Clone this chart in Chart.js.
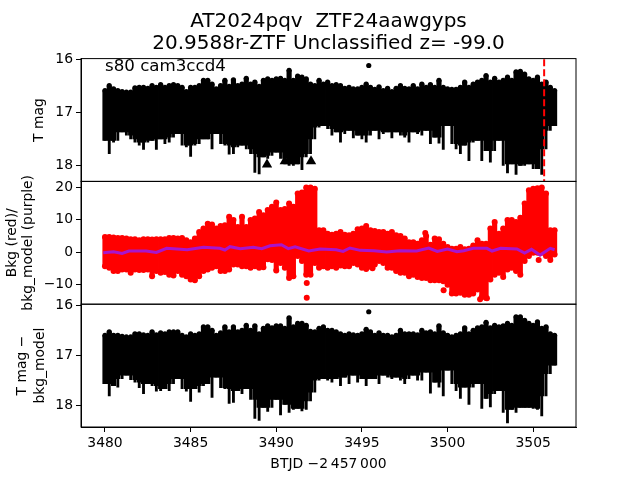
<!DOCTYPE html>
<html>
<head>
<meta charset="utf-8">
<script src="https://cdn.jsdelivr.net/npm/chart.js@4"></script>
<style>
  html, body { margin: 0; padding: 0; background: #fff; }
  canvas { display: block; }
</style>
</head>
<body>
<canvas id="grafico" width="640" height="480"></canvas>
<script>
// columnas de tiempo (BTJD - 2457000)
const btjd = [
  3480,3480.25,3480.5,3480.75,3481,3481.25,3481.5,3481.75,3482,3482.25,
  3482.5,3482.75,3483,3483.25,3483.5,3483.75,3484,3484.25,3484.5,3484.75,
  3485,3485.25,3485.5,3485.75,3486,3486.25,3486.5,3486.75,3487,3487.25,
  3487.5,3487.75,3488,3488.25,3488.5,3488.75,3489,3489.25,3489.5,3489.75,
  3490,3490.25,3490.5,3490.75,3491,3491.25,3491.5,3491.75,3492,3492.25,
  3492.5,3492.75,3493,3493.25,3493.5,3493.75,3494,3494.25,3494.5,3494.75,
  3495,3495.25,3495.5,3495.75,3496,3496.25,3496.5,3496.75,3497,3497.25,
  3497.5,3497.75,3498,3498.25,3498.5,3498.75,3499,3499.25,3499.5,3499.75,
  3500,3500.25,3500.5,3500.75,3501,3501.25,3501.5,3501.75,3502,3502.25,
  3502.5,3502.75,3503,3503.25,3503.5,3503.75,3504,3504.25,3504.5,3504.75,
  3505,3505.25,3505.5,3505.75,3506,3506.25
];

// panel 1: T mag, borde superior e inferior
const magTop = [
  16.59,16.50,16.56,16.59,16.61,16.62,16.62,16.54,16.53,16.53,
  16.55,16.50,16.53,16.48,16.53,16.50,16.48,16.50,16.53,16.61,
  16.53,16.53,16.50,16.40,16.40,16.47,16.56,16.50,16.40,16.51,
  16.39,16.50,16.47,16.36,16.47,16.43,16.51,16.40,16.37,16.40,
  16.37,16.36,16.40,16.21,16.40,16.32,16.34,16.37,16.47,16.50,
  16.40,16.47,16.43,16.50,16.48,
  16.50,16.55,16.53,16.56,16.56,16.53,16.47,16.53,16.57,16.52,
  16.59,16.55,16.61,16.55,16.50,16.55,16.56,16.50,16.56,16.47,
  16.53,16.48,16.53,16.40,16.53,16.56,16.57,16.57,16.53,16.43,
  16.53,16.47,16.43,16.40,16.31,16.43,16.36,16.43,16.40,16.34,
  16.40,16.24,16.23,16.28,16.37,16.40,16.34,16.47,16.43,16.53,16.59
];
const magBottom = [
  17.53,17.78,17.56,17.53,17.37,17.43,17.50,17.56,17.62,17.70,
  17.56,17.53,17.70,17.50,17.59,17.56,17.47,17.40,17.62,17.65,
  17.83,17.62,17.59,17.50,17.50,17.69,17.40,17.59,17.62,17.79,
  17.78,17.65,17.62,17.69,17.78,18.13,18.16,17.84,17.87,17.81,
  17.75,17.87,17.97,18.00,18.00,17.97,18.08,17.84,17.78,17.50,
  17.28,17.25,17.31,17.43,17.37,
  17.56,17.40,17.34,17.48,17.43,17.50,17.56,17.43,17.34,17.50,
  17.40,17.37,17.48,17.37,17.43,17.47,17.56,17.37,17.40,17.43,
  17.34,17.59,17.47,17.58,17.70,17.25,17.59,17.69,17.78,17.62,
  17.91,17.56,17.53,17.91,17.72,17.94,17.72,17.53,18.00,18.14,
  17.97,18.17,18.00,18.00,17.97,18.06,18.06,18.17,17.69,17.34,17.25
];
const magOutX = [3495.4];
const magOutY = [16.12];
const limiteX = [3489.46, 3490.5, 3492.03];
const limiteY = [17.98, 17.92, 17.92];
const corteX = [3505.64, 3505.64];
const corteY = [16, 18.3];

// panel 2: fondo (rojo) y modelo (morado)
const bkgTop = [
  4.7,4.7,4.5,4.4,4.4,4.2,4.0,4.0,3.7,4.0,
  4.0,3.9,4.0,4.0,4.0,4.4,4.4,4.2,4.4,3.7,
  3.1,4.2,6.2,7.3,8.8,8.5,7.3,8.1,8.3,10.9,
  9.9,7.8,10.9,7.8,9.9,10.4,12.4,11.4,13.0,14.0,
  15.3,13.0,13.3,15.0,14.0,18.1,18.4,19.9,19.9,19.5,
  6.8,6.8,5.7,5.4,5.7,
  6.2,5.4,5.2,5.7,7.1,7.3,8.1,6.8,6.5,6.2,
  6.2,5.7,6.2,5.2,5.0,4.2,3.1,3.1,2.6,3.7,
  5.0,2.3,4.2,4.0,2.6,1.6,1.1,1.1,1.6,0.9,
  1.1,2.1,3.7,2.6,2.6,7.3,9.3,5.7,7.3,9.9,
  9.9,9.3,10.6,15.0,19.1,19.5,19.7,19.9,18.1,6.8,6.8
];
const bkgBottom = [
  -4.3,-4.8,-5.8,-5.8,-5.3,-5.3,-6.3,-5.3,-5.5,-5.5,
  -5.3,-7.4,-5.8,-6.3,-6.1,-6.9,-7.2,-5.8,-6.9,-7.4,
  -8.4,-8.6,-7.4,-5.8,-5.3,-4.8,-4.3,-5.8,-5.8,-5.3,
  -3.8,-3.8,-4.3,-4.3,-4.8,-4.3,-4.8,-4.6,-2.2,-2.4,
  -5.6,-3.3,-4.8,-7.9,-7.4,-1.2,-2.7,-6.9,-6.9,-3.3,
  -4.8,-4.3,-4.8,-4.3,-4.8,
  -4.1,-4.3,-4.3,-3.3,-3.8,-4.8,-3.8,-4.5,-3.8,-2.7,
  -3.3,-4.8,-4.8,-5.8,-6.3,-6.3,-7.4,-6.9,-7.6,-7.9,
  -7.9,-8.6,-8.6,-8.6,-8.9,-10.0,-12.7,-12.7,-12.5,-13.1,
  -13.1,-12.7,-11.5,-13.8,-14.1,-8.4,-6.9,-6.3,-7.6,-5.3,
  -4.8,-5.8,-6.9,-2.7,-1.2,-0.2,-0.2,-0.2,-1.2,-2.4,-0.7
];
const bkgOutX = [3491.78,3491.78,3499.77,3505.32,3501.9,3502.3,3495.25,3495.62,3498.7];
const bkgOutY = [-9.5,-14.0,-11.7,-2.4,-14.5,-14.2,-5.2,-4.9,5.9];
const modeloX = [
  3479.9,3480.5,3481,3481.4,3482.4,3483,3483.6,3484.8,3485.75,3486.7,3487,3487.3,
  3487.9,3488.66,3489.15,3489.64,3490.3,3490.7,3491.1,3491.9,3492.56,3493.5,3493.9,
  3494.3,3494.9,3495.7,3496.45,3497.2,3498.2,3498.9,3499.4,3500,3500.55,3500.95,
  3501.5,3502.3,3502.6,3503.1,3504.05,3504.5,3504.9,3505.4,3506,3506.25
];
const modeloY = [
  -0.15,0.15,-0.36,0.36,0.36,-0.05,1.2,0.77,1.5,1.2,0.67,1.7,
  1.1,1.5,1.1,2.0,2.3,1.1,1.7,0.36,1.0,0.77,0.26,
  1.3,0.57,0.46,0.05,0.46,0.36,1.3,0.26,1.0,0.15,0.46,
  1.2,1.2,0.36,1.2,1.0,-0.26,0.88,-0.88,1.2,0.77
];

// panel 3: T mag - bkg_model
const resTop = [
  16.60,16.53,16.60,16.60,16.62,16.63,16.63,16.57,16.57,16.59,
  16.60,16.53,16.59,16.55,16.57,16.53,16.53,16.53,16.60,16.63,
  16.57,16.60,16.57,16.43,16.43,16.50,16.60,16.55,16.43,16.53,
  16.43,16.53,16.50,16.40,16.50,16.41,16.57,16.46,16.41,16.45,
  16.41,16.41,16.46,16.25,16.43,16.36,16.36,16.40,16.52,16.53,
  16.46,16.43,16.50,16.50,16.53,
  16.57,16.60,16.57,16.59,16.60,16.57,16.48,16.53,16.60,16.55,
  16.60,16.60,16.63,16.60,16.50,16.57,16.57,16.57,16.59,16.50,
  16.55,16.53,16.57,16.41,16.55,16.60,16.63,16.60,16.57,16.45,
  16.57,16.50,16.45,16.43,16.34,16.45,16.40,16.43,16.41,16.36,
  16.40,16.23,16.23,16.30,16.36,16.40,16.33,16.46,16.43,16.57,16.60
];
const resBottom = [
  17.56,17.80,17.60,17.63,17.46,17.39,17.48,17.53,17.64,17.76,
  17.56,17.60,17.71,17.70,17.66,17.70,17.56,17.46,17.66,17.71,
  17.91,17.66,17.73,17.60,17.56,17.83,17.43,17.64,17.66,17.95,
  17.93,17.70,17.76,17.66,17.87,18.25,18.29,18.03,18.11,18.03,
  17.87,18.18,17.97,18.13,18.07,18.05,18.10,18.07,17.90,17.73,
  17.49,17.46,17.49,17.53,17.46,
  17.60,17.43,17.56,17.39,17.53,17.46,17.60,17.46,17.46,17.56,
  17.39,17.43,17.46,17.43,17.49,17.56,17.46,17.39,17.49,17.49,
  17.33,17.75,17.53,17.63,17.80,17.29,17.56,17.70,17.85,17.63,
  17.97,17.63,17.56,18.05,17.85,18.02,17.76,17.70,18.13,18.34,
  18.07,18.13,18.03,18.03,18.03,18.05,18.07,18.20,17.80,17.36,17.19
];
const resOutX = [3495.4];
const resOutY = [16.13];

const fuente = 'DejaVu Sans';

function puntos(xs, ys) {
  return xs.map((x, i) => ({ x: x, y: ys[i] }));
}

function banda(xs, a, b) {
  return xs.map((x, i) => ({ x: x, y: [a[i], b[i]] }));
}

// cuerpo de la columna: llega hasta donde llegan tambien sus vecinas
function nucleo(b) {
  return b.map((v, i) => Math.min(v, i > 0 ? b[i - 1] : v, i < b.length - 1 ? b[i + 1] : v));
}

// columnas del borde superior al inferior
function barras(eje, a, b, color, ancho) {
  return {
    type: 'bar', yAxisID: eje, grouped: false, barThickness: ancho,
    data: banda(btjd, a, b), backgroundColor: color, borderWidth: 0
  };
}

function marcas(eje, xs, ys, color, radio, forma) {
  return {
    type: 'line', yAxisID: eje, showLine: false, data: puntos(xs, ys),
    pointRadius: radio, pointStyle: forma || 'circle',
    pointBackgroundColor: color, pointBorderWidth: 0
  };
}

function ejeY(min, max, paso, invertido, peso, texto, sep, interlinea) {
  return {
    type: 'linear', position: 'left', stack: 'paneles', stackWeight: 1, weight: peso,
    min: min, max: max, reverse: invertido,
    afterFit: (s) => { s.width = 81; },
    grid: { display: true, drawOnChartArea: false, drawTicks: true, tickLength: 5, color: '#000', tickColor: '#000' },
    border: { display: true, color: '#000', width: 1 },
    ticks: { stepSize: paso, includeBounds: false, color: '#000', padding: 3, font: { family: fuente, size: 13.9 },
      callback: (v) => String(v).replace('-', '\u2212') },
    title: { display: true, text: texto, color: '#000', padding: { top: sep, bottom: 0 }, font: { family: fuente, size: 13.9, lineHeight: interlinea } }
  };
}

// marco de cada panel y la etiqueta del sector
const marco = {
  id: 'marco',
  afterDraw(chart) {
    const c = chart.ctx, a = chart.chartArea;
    c.save();
    c.strokeStyle = '#000';
    c.lineWidth = 1;
    ['y1', 'y2', 'y3'].forEach((id) => {
      const s = chart.scales[id];
      c.strokeRect(a.left, s.top, a.right - a.left, s.bottom - s.top);
    });
    c.fillStyle = '#000';
    c.font = '16.67px "DejaVu Sans"';
    c.textBaseline = 'alphabetic';
    c.fillText('s80 cam3ccd4', chart.scales.x.getPixelForValue(3480), chart.scales.y1.getPixelForValue(16.22));
    c.restore();
  }
};

new Chart(document.getElementById('grafico'), {
  type: 'bar',
  data: {
    datasets: [
      {
        type: 'line', yAxisID: 'y1', data: puntos(corteX, corteY), borderColor: '#ff0000',
        borderWidth: 2, borderDash: [7, 3], pointRadius: 0
      },
      {
        type: 'line', yAxisID: 'y2', data: puntos(modeloX, modeloY), borderColor: '#a815cc',
        borderWidth: 3, pointRadius: 0, tension: 0
      },
      marcas('y1', limiteX, limiteY, '#000', 6, 'triangle'),
      marcas('y1', magOutX, magOutY, '#000', 2.6),
      marcas('y1', btjd, magTop, '#000', 2.6),
      barras('y1', magTop, nucleo(magBottom), '#000', 4.5),
      barras('y1', magTop, magBottom, '#000', 2.2),
      marcas('y2', bkgOutX, bkgOutY, '#ff0000', 3),
      marcas('y2', btjd, bkgTop, '#ff0000', 3),
      marcas('y2', btjd, bkgBottom, '#ff0000', 3),
      barras('y2', bkgTop, bkgBottom, '#ff0000', 4.5),
      marcas('y3', resOutX, resOutY, '#000', 2.6),
      marcas('y3', btjd, resTop, '#000', 2.6),
      barras('y3', resTop, nucleo(resBottom), '#000', 4.5),
      barras('y3', resTop, resBottom, '#000', 2.2)
    ]
  },
  options: {
    responsive: false,
    animation: false,
    devicePixelRatio: 1,
    layout: { padding: { left: 0, right: 64, top: 0, bottom: 0 } },
    plugins: {
      legend: { display: false },
      tooltip: { enabled: false },
      title: {
        display: true,
        fullSize: false,
        text: ['AT2024pqv  ZTF24aawgyps', '20.9588r-ZTF Unclassified z= -99.0'],
        color: '#000',
        font: { family: fuente, size: 20, weight: 'normal', lineHeight: 1.09 },
        padding: { top: 11, bottom: 4 }
      }
    },
    scales: {
      x: {
        type: 'linear', position: 'bottom', min: 3478.6, max: 3507.5, offset: false,
        afterFit: (s) => { s.height = 53; },
        grid: { display: true, offset: false, drawOnChartArea: false, drawTicks: true, tickLength: 5, color: '#000', tickColor: '#000' },
        border: { display: true, color: '#000', width: 1 },
        ticks: { stepSize: 5, includeBounds: false, maxRotation: 0, color: '#000', padding: 3, font: { family: fuente, size: 13.9 },
          callback: (v) => String(v) },
        title: { display: true, text: 'BTJD \u22122\u2009457\u2009000', color: '#000', padding: { top: 4, bottom: 7 }, font: { family: fuente, size: 13.9 } }
      },
      y1: ejeY(15.99, 18.3, 1, true, 3, 'T mag', 31, 1.25),
      y2: ejeY(-16, 21.8, 10, false, 2, ['Bkg (red)/', 'bkg_model (purple)'], 4, 1.15),
      y3: ejeY(15.98, 18.42, 1, true, 1, ['T mag \u2212', 'bkg_model'], 14, 1.25)
    }
  },
  plugins: [marco]
});
</script>
</body>
</html>
